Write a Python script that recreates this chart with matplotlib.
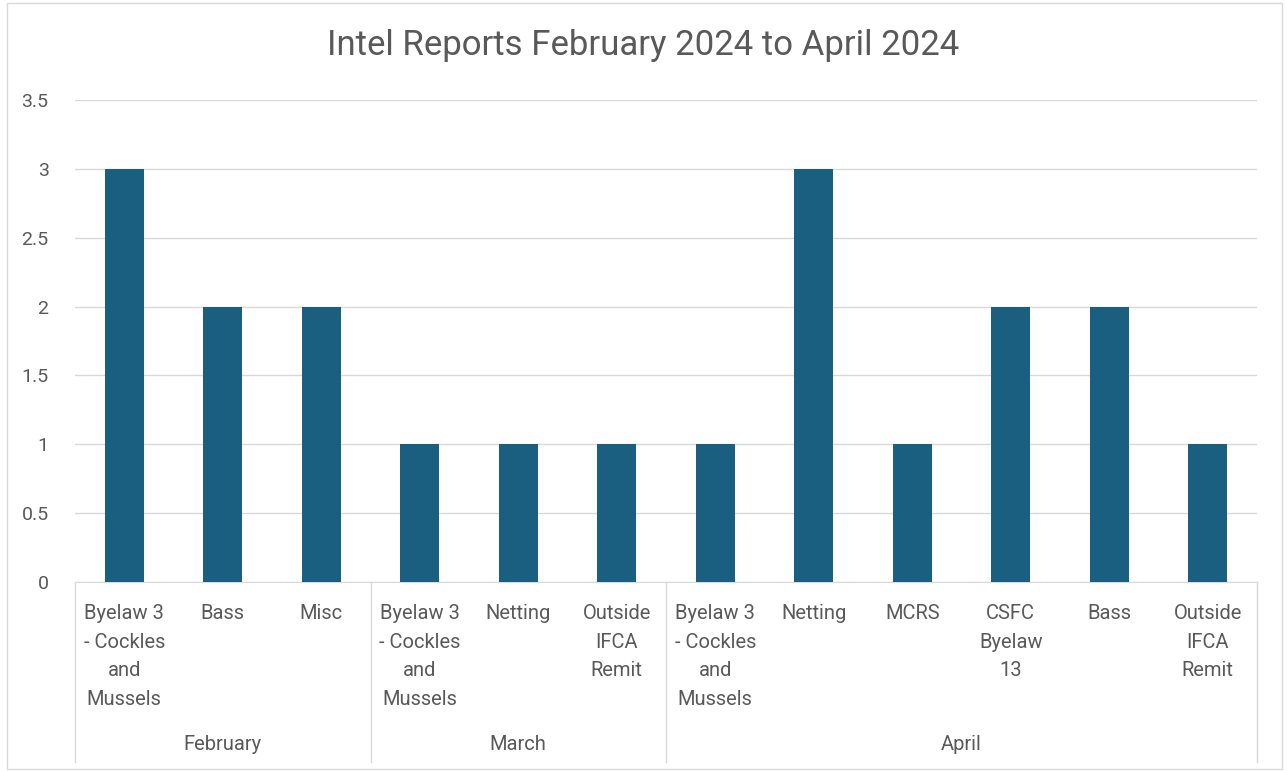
import matplotlib
matplotlib.use("Agg")
import matplotlib.pyplot as plt
from matplotlib.patches import Rectangle

DPI = 100

# Данные
months = ["February", "March", "April"]
categories = [
    ["Byelaw 3\n- Cockles\nand\nMussels", "Bass", "Misc"],
    ["Byelaw 3\n- Cockles\nand\nMussels", "Netting", "Outside\nIFCA\nRemit"],
    ["Byelaw 3\n- Cockles\nand\nMussels", "Netting", "MCRS", "CSFC\nByelaw\n13", "Bass",
     "Outside\nIFCA\nRemit"],
]
counts = [
    [3, 2, 2],
    [1, 1, 1],
    [1, 3, 1, 2, 2, 1],
]
yticks = [0, 0.5, 1, 1.5, 2, 2.5, 3, 3.5]

BAR = "#1a5e80"
TXT = "#595959"
GRID = "#d9d9d9"

plt.rcParams["font.family"] = ["Roboto", "DejaVu Sans"]

fig = plt.figure(figsize=(1287 / DPI, 771 / DPI), dpi=DPI)
ax = fig.add_axes([75 / 1287, 1 - 582 / 771, (1257 - 75) / 1287, (582 - 100) / 771])

labels = [c for grp in categories for c in grp]
values = [v for grp in counts for v in grp]
x = list(range(len(values)))

ax.bar(x, values, width=0.4, color=BAR, zorder=3)
ax.set_xlim(-0.5, len(values) - 0.5)
ax.set_ylim(0, 3.5)
ax.set_yticks(yticks)
ax.set_yticklabels([f"{t:g}" for t in yticks], color=TXT, fontsize=14)
ax.tick_params(axis="y", length=0, pad=19)
ax.set_xticks([])
ax.grid(axis="y", color=GRID, linewidth=1, zorder=0)
for s in ["top", "right", "left"]:
    ax.spines[s].set_visible(False)
ax.spines["bottom"].set_color(GRID)

# Подписи категорий
for xi, lab in zip(x, labels):
    ax.text(xi, -0.046, lab, transform=ax.get_xaxis_transform(), ha="center", va="top",
            fontsize=14.5, color=TXT, linespacing=1.63, multialignment="center")

# Группы месяцев
start = 0
bounds = [-0.5]
for m, grp in zip(months, counts):
    end = start + len(grp)
    bounds.append(end - 0.5)
    ax.text((start + end - 1) / 2, -0.338, m, transform=ax.get_xaxis_transform(),
            ha="center", va="center", fontsize=14.5, color=TXT)
    start = end
for b in bounds:
    ax.plot([b, b], [0, -0.373], transform=ax.get_xaxis_transform(), color=GRID,
            linewidth=1, clip_on=False)

fig.text(0.5, 1 - 46 / 771, "Intel Reports February 2024 to April 2024", ha="center",
         va="center", fontsize=25, color=TXT)

fig.patches.append(Rectangle((7 / 1287, 0.002), 1275 / 1287, 1 - 3 / 771 - 0.002,
                             transform=fig.transFigure, fill=False, edgecolor=GRID,
                             linewidth=1))

plt.savefig("out.png", dpi=DPI)
plt.close()
